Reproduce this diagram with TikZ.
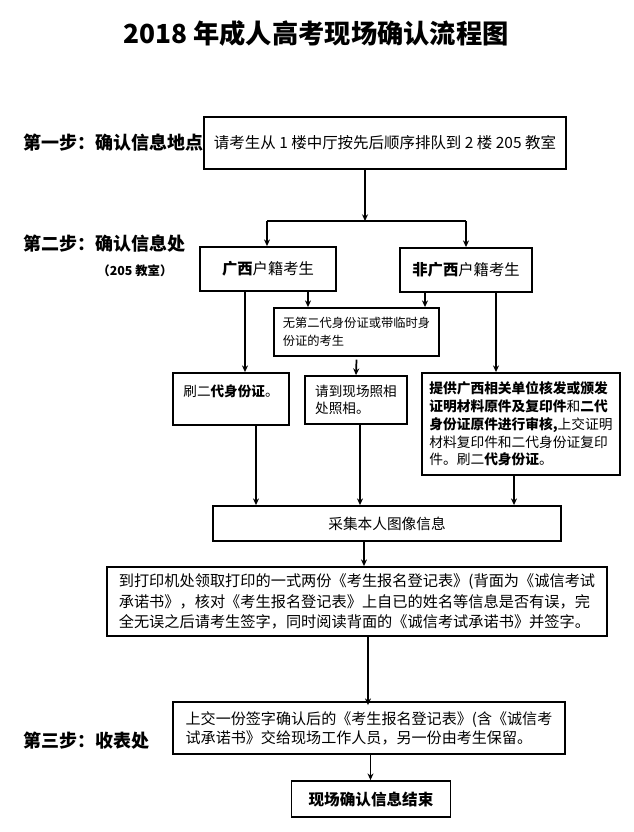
\documentclass[tikz,border=0pt]{standalone}
\usepackage{fontspec}
\newfontfamily\cjk{Noto Sans CJK SC}
\usetikzlibrary{arrows.meta}
\newcommand{\fs}[2]{\fontsize{#1}{#2}\selectfont}
\tikzset{
  box/.style={draw, line width=1.4pt, inner sep=0pt},
  flow/.style={->, line width=1.3pt},
  steplabel/.style={anchor=west, font=\cjk\bfseries\fs{13.5}{16}},
}

\begin{document}
\begin{tikzpicture}[x=0.75pt, y=-0.75pt, >={Stealth[length=5pt, width=4.5pt]}]
  \useasboundingbox (0,0) rectangle (634,832);

  % Title
  \node[font=\cjk\bfseries\fs{19.7}{24}] (title) at (316,33) {2018 年成人高考现场确认流程图};

  % Step labels
  \node[steplabel] (step1) at (19,143) {第一步：确认信息地点};
  \node[steplabel] (step2) at (19,244) {第二步：确认信息处};
  \node[font=\cjk\bfseries\fs{9.3}{11}] (room) at (135,271) {（205 教室）};
  \node[steplabel] (step3) at (19,741) {第三步：收表处};

  % Boxes
  \node[box, minimum width=271pt, minimum height=39pt, font=\cjk\fs{11.6}{15}] (queue) at (385,143)
    {请考生从 1 楼中厅按先后顺序排队到 2 楼 205 教室};
  \node[box, minimum width=102pt, minimum height=33pt, font=\cjk\fs{11.5}{14}] (gx) at (268,269)
    {\textbf{广西}户籍考生};
  \node[box, minimum width=98.6pt, minimum height=33pt, font=\cjk\fs{11.5}{14}] (fgx) at (466,270)
    {\textbf{非广西}户籍考生};
  \node[box, minimum width=123.75pt, minimum height=36pt, align=left, font=\cjk\fs{9.2}{13.5}] (noid) at (356.5,332)
    {无第二代身份证或带临时身\\份证的考生};
  \node[box, minimum width=87.4pt, minimum height=39pt, align=left, font=\cjk\fs{10.2}{13}] (swipe) at (231,399)
    {刷二\textbf{代身份证}。\\\mbox{}};
  \node[box, minimum width=76pt, minimum height=36pt, align=left, font=\cjk\fs{10.2}{12.75}] (photo) at (356,400)
    {请到现场照相\\处照相。};
  \node[box, minimum width=149pt, minimum height=76.5pt, align=left, font=\cjk\fs{10.3}{13.3}] (verify) at (521,424)
    {\textbf{提供广西相关单位核发或颁发}\\
     \textbf{证明材料原件及复印件}和\textbf{二代}\\
     \textbf{身份证原件进行审核,}上交证明\\
     材料复印件和二代身份证复印\\
     件。刷二\textbf{代身份证}。};
  \node[box, minimum width=261pt, minimum height=26.25pt, font=\cjk\fs{11}{14}] (collect) at (387,523.5)
    {采集本人图像信息};
  \node[box, minimum width=375pt, minimum height=51.75pt, align=left, font=\cjk\fs{11.4}{15.4}] (printform) at (357,601.5)
    {到打印机处领取打印的一式两份《考生报名登记表》(背面为《诚信考试\\
     承诺书》，核对《考生报名登记表》上自已的姓名等信息是否有误，完\\
     全无误之后请考生签字，同时阅读背面的《诚信考试承诺书》并签字。};
  \node[box, minimum width=294pt, minimum height=39pt, align=left, font=\cjk\fs{11.3}{14.3}] (submit) at (369,728)
    {上交一份签字确认后的《考生报名登记表》(含《诚信考\\
     试承诺书》交给现场工作人员，另一份由考生保留。};
  \node[box, minimum width=119.25pt, minimum height=27pt, font=\cjk\bfseries\fs{11.7}{14}] (finish) at (371,799)
    {现场确认信息结束};

  % Split below the first box
  \coordinate (split) at (365,221);
  \coordinate (splitL) at (267,221);
  \coordinate (splitR) at (466,221);
  \draw[flow] (queue.south -| split) -- (split);
  \draw[line width=1.3pt] (splitL) -- (splitR);
  \draw[flow] (splitL) -- (gx.north -| splitL);
  \draw[flow] (splitR) -- (fgx.north -| splitR);

  % Lanes from the second row
  \coordinate (gxA) at (245,0);
  \coordinate (gxB) at (308,0);
  \coordinate (fgxA) at (425,0);
  \coordinate (fgxB) at (496,0);
  \draw[flow] (gx.south -| gxA) -- (swipe.north -| gxA);
  \draw[flow] (gx.south -| gxB) -- (noid.north -| gxB);
  \draw[flow] (fgx.south -| fgxA) -- (noid.north -| fgxA);
  \draw[flow] (fgx.south -| fgxB) -- (verify.north -| fgxB);
  \draw[flow] ([yshift=-2pt]noid.south) -- (photo.north);

  % Lanes into the image box
  \coordinate (inA) at (256,0);
  \coordinate (inB) at (360,0);
  \coordinate (inC) at (514,0);
  \draw[flow] (swipe.south -| inA) -- (collect.north -| inA);
  \draw[flow] (photo.south -| inB) -- (collect.north -| inB);
  \draw[flow] (verify.south -| inC) -- (collect.north -| inC);

  % Last steps
  \coordinate (down1) at (364,0);
  \coordinate (down2) at (368,0);
  \coordinate (down3) at (370.5,0);
  \draw[flow] (collect.south -| down1) -- (printform.north -| down1);
  \draw[flow] (printform.south -| down2) -- ([yshift=-3pt]submit.north -| down2);
  \draw[flow] (submit.south -| down3) -- (finish.north -| down3);
\end{tikzpicture}
\end{document}
